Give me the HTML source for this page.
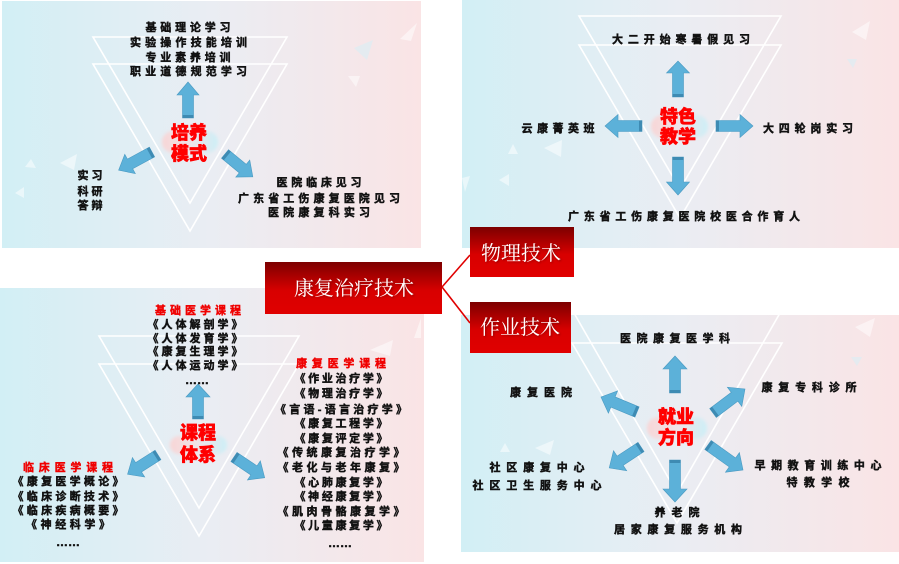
<!DOCTYPE html>
<html><head><meta charset="utf-8">
<style>
html,body{margin:0;padding:0;background:#fff;}
svg{display:block;}
.t{font-family:"Liberation Sans","Noto Sans CJK SC",sans-serif;font-weight:700;font-size:11px;fill:#111;stroke:#111;stroke-width:0.45;}
.r{font-family:"Liberation Sans","Noto Sans CJK SC",sans-serif;font-weight:700;font-size:11px;fill:#f00000;stroke:#f00000;stroke-width:0.4;}
.c{font-family:"Liberation Sans","Noto Sans CJK SC",sans-serif;font-weight:900;font-size:18px;fill:#ff0000;stroke:#ff0000;stroke-width:0.6;}
.w{font-family:"Liberation Serif","Noto Serif CJK SC",serif;font-size:20px;fill:#fff;}
.tri{fill:none;stroke:#fff;stroke-width:1.6;}
.ar{fill:#5cb1d9;stroke:#4a9ac2;stroke-width:0.6;}
.ad{fill:#3e8bb3;}
.deco{fill:#ffffff;opacity:0.5;}
.deco2{fill:#d8eef5;opacity:0.6;}
</style></head>
<body>
<svg width="899" height="564" viewBox="0 0 899 564" xmlns="http://www.w3.org/2000/svg">
<defs>
<linearGradient id="bg" x1="0" y1="0" x2="1" y2="0">
<stop offset="0" stop-color="#d2eff5"/>
<stop offset="0.5" stop-color="#eaedf3"/>
<stop offset="1" stop-color="#fae4e5"/>
</linearGradient>
<linearGradient id="rb" x1="0" y1="0" x2="0" y2="1">
<stop offset="0" stop-color="#7c0000"/>
<stop offset="0.55" stop-color="#d80000"/>
<stop offset="1" stop-color="#e00000"/>
</linearGradient>
<linearGradient id="pill" x1="0" y1="0" x2="1" y2="0">
<stop offset="0" stop-color="#f8d6d6"/>
<stop offset="0.5" stop-color="#efe3e8"/>
<stop offset="1" stop-color="#cdeff7"/>
</linearGradient>
<filter id="bl" x="-30%" y="-60%" width="160%" height="220%"><feGaussianBlur stdDeviation="1.5"/></filter>
<filter id="sh" x="-10%" y="-10%" width="130%" height="130%"><feDropShadow dx="1" dy="1" stdDeviation="1" flood-color="#000" flood-opacity="0.35"/></filter>
<clipPath id="cTL"><rect x="2" y="1" width="419" height="247"/></clipPath>
<clipPath id="cTR"><rect x="462" y="0" width="437" height="248"/></clipPath>
<clipPath id="cBL"><rect x="0" y="288" width="424" height="274"/></clipPath>
<clipPath id="cBR"><rect x="461" y="315" width="438" height="237"/></clipPath>
</defs>

<!-- Panels -->
<rect x="2" y="1" width="419" height="247" fill="url(#bg)"/>
<rect x="462" y="0" width="437" height="248" fill="url(#bg)"/>
<rect x="0" y="288" width="424" height="274" fill="url(#bg)"/>
<rect x="461" y="315" width="438" height="237" fill="url(#bg)"/>

<!-- decorative triangles -->
<polygon class="deco" points="400,39 417,23 411,41"/>
<polygon class="deco2" points="354,48 373,40 367,60"/>
<polygon class="deco" points="348,76 360,76 356,87"/>
<polygon class="deco" points="60,163 77,154 74,170"/>
<polygon class="deco" points="25,167 31,159 36,168"/>
<polygon class="deco" points="15,193 24,187 24,198"/>
<polygon class="deco" points="852,32 870,21 866,40"/>
<polygon class="deco2" points="847,59 857,59 853,68"/>
<polygon class="deco" points="544,148 562,140 561,157"/>
<polygon class="deco" points="508,154 513,144 518,154"/>
<polygon class="deco" points="462,178 470,176 465,192"/>
<polygon class="deco" points="499,180 509,174 509,186"/>
<polygon class="deco" points="370,350 393,340 390,356"/>
<polygon class="deco" points="414,338 421,318 421,338"/>
<polygon class="deco" points="855,327 875,318 870,337"/>
<polygon class="deco2" points="851,357 862,357 857,366"/>
<polygon class="deco" points="500,452 505,443 510,452"/>
<polygon class="deco" points="535,448 554,440 550,455"/>

<!-- Triangles -->
<g clip-path="url(#cTL)">
<polygon class="tri" points="93,37 287,37 190,203"/>
<polygon class="tri" points="93,64 287,64 190,231"/>
</g>
<g clip-path="url(#cTR)">
<polygon class="tri" points="579,16 781,16 680,189"/>
<polygon class="tri" points="579,45 781,45 680,218"/>
</g>
<g clip-path="url(#cBL)">
<polygon class="tri" points="99,336 299,336 199,508"/>
<polygon class="tri" points="99,364 299,364 199,536"/>
</g>
<g clip-path="url(#cBR)">
<polygon class="tri" points="574,313 780,313 677,493"/>
<polygon class="tri" points="572,343 782,343 677,523"/>
</g>

<!-- center pills -->
<rect x="162" y="131" width="56" height="22" rx="11" fill="url(#pill)" filter="url(#bl)"/>
<rect x="651" y="115" width="57" height="23" rx="11.5" fill="url(#pill)" filter="url(#bl)"/>
<rect x="170" y="436" width="57" height="18" rx="9" fill="url(#pill)" filter="url(#bl)"/>
<rect x="647" y="417" width="60" height="22" rx="11" fill="url(#pill)" filter="url(#bl)"/>

<!-- Arrows TL -->
<g transform="translate(188,118) rotate(-90)"><polygon class="ar" points="0,-5.5 23,-5.5 23,-11 36,0 23,11 23,5.5 0,5.5"/><rect class="ad" x="0" y="-5.5" width="3" height="11"/></g>
<g transform="translate(152,152) rotate(151.4)"><polygon class="ar" points="0,-5.5 25,-5.5 25,-11 38,0 25,11 25,5.5 0,5.5"/><rect class="ad" x="0" y="-5.5" width="3" height="11"/></g>
<g transform="translate(225,154) rotate(39.4)"><polygon class="ar" points="0,-5.5 23,-5.5 23,-11 36,0 23,11 23,5.5 0,5.5"/><rect class="ad" x="0" y="-5.5" width="3" height="11"/></g>
<!-- Arrows TR -->
<g transform="translate(678,97) rotate(-90)"><polygon class="ar" points="0,-5.5 24,-5.5 24,-11.5 36,0 24,11.5 24,5.5 0,5.5"/><rect class="ad" x="0" y="-5.5" width="3" height="11"/></g>
<g transform="translate(642,126) rotate(180)"><polygon class="ar" points="0,-5.5 24,-5.5 24,-11.5 37,0 24,11.5 24,5.5 0,5.5"/><rect class="ad" x="0" y="-5.5" width="3" height="11"/></g>
<g transform="translate(716,126)"><polygon class="ar" points="0,-5.5 24,-5.5 24,-11.5 37,0 24,11.5 24,5.5 0,5.5"/><rect class="ad" x="0" y="-5.5" width="3" height="11"/></g>
<g transform="translate(678,157) rotate(90)"><polygon class="ar" points="0,-5.5 25,-5.5 25,-11.5 38,0 25,11.5 25,5.5 0,5.5"/><rect class="ad" x="0" y="-5.5" width="3" height="11"/></g>
<!-- Arrows BL -->
<g transform="translate(198,419) rotate(-90)"><polygon class="ar" points="0,-5.5 22,-5.5 22,-12 35,0 22,12 22,5.5 0,5.5"/><rect class="ad" x="0" y="-5.5" width="3" height="11"/></g>
<g transform="translate(158,455) rotate(147.7)"><polygon class="ar" points="0,-5.5 23,-5.5 23,-11.5 36,0 23,11.5 23,5.5 0,5.5"/><rect class="ad" x="0" y="-5.5" width="3" height="11"/></g>
<g transform="translate(234,457) rotate(34)"><polygon class="ar" points="0,-5.5 24,-5.5 24,-11.5 37,0 24,11.5 24,5.5 0,5.5"/><rect class="ad" x="0" y="-5.5" width="3" height="11"/></g>
<!-- Arrows BR -->
<g transform="translate(675,393) rotate(-90)"><polygon class="ar" points="0,-5.5 24,-5.5 24,-12 37,0 24,12 24,5.5 0,5.5"/><rect class="ad" x="0" y="-5.5" width="3" height="11"/></g>
<g transform="translate(637,412) rotate(202.6)"><polygon class="ar" points="0,-5.5 26,-5.5 26,-12 39,0 26,12 26,5.5 0,5.5"/><rect class="ad" x="0" y="-5.5" width="3" height="11"/></g>
<g transform="translate(713,413) rotate(-36.9)"><polygon class="ar" points="0,-5.5 27,-5.5 27,-12 40,0 27,12 27,5.5 0,5.5"/><rect class="ad" x="0" y="-5.5" width="3" height="11"/></g>
<g transform="translate(641,447) rotate(146.7)"><polygon class="ar" points="0,-5.5 25,-5.5 25,-12 38,0 25,12 25,5.5 0,5.5"/><rect class="ad" x="0" y="-5.5" width="3" height="11"/></g>
<g transform="translate(708,445) rotate(35.5)"><polygon class="ar" points="0,-5.5 30,-5.5 30,-12 43,0 30,12 30,5.5 0,5.5"/><rect class="ad" x="0" y="-5.5" width="3" height="11"/></g>
<g transform="translate(675,460) rotate(90)"><polygon class="ar" points="0,-5.5 29,-5.5 29,-12 42,0 29,12 29,5.5 0,5.5"/><rect class="ad" x="0" y="-5.5" width="3" height="11"/></g>

<!-- TL text -->
<text class="t" x="188" y="31" text-anchor="middle" textLength="85" lengthAdjust="spacing">基础理论学习</text>
<text class="t" x="188.5" y="46" text-anchor="middle" textLength="117" lengthAdjust="spacing">实验操作技能培训</text>
<text class="t" x="188" y="61" text-anchor="middle" textLength="85" lengthAdjust="spacing">专业素养培训</text>
<text class="t" x="188.5" y="75" text-anchor="middle" textLength="117" lengthAdjust="spacing">职业道德规范学习</text>
<text class="t" x="90" y="179" text-anchor="middle" textLength="25" lengthAdjust="spacing">实习</text>
<text class="t" x="90" y="195" text-anchor="middle" textLength="25" lengthAdjust="spacing">科研</text>
<text class="t" x="90" y="209" text-anchor="middle" textLength="25" lengthAdjust="spacing">答辩</text>
<text class="t" x="319" y="186" text-anchor="middle" textLength="85" lengthAdjust="spacing">医院临床见习</text>
<text class="t" x="319" y="202" text-anchor="middle" textLength="162" lengthAdjust="spacing">广东省工伤康复医院见习</text>
<text class="t" x="319" y="216" text-anchor="middle" textLength="102" lengthAdjust="spacing">医院康复科实习</text>
<text class="c" x="189" y="139" text-anchor="middle">培养</text>
<text class="c" x="189" y="160" text-anchor="middle">模式</text>

<!-- TR text -->
<text class="t" x="681" y="43" text-anchor="middle" textLength="138" lengthAdjust="spacing">大二开始寒暑假见习</text>
<text class="t" x="558" y="132" text-anchor="middle" textLength="73" lengthAdjust="spacing">云康菁英班</text>
<text class="t" x="808" y="132" text-anchor="middle" textLength="90" lengthAdjust="spacing">大四轮岗实习</text>
<text class="t" x="684" y="220" text-anchor="middle" textLength="232" lengthAdjust="spacing">广东省工伤康复医院校医合作育人</text>
<text class="c" x="678" y="123" text-anchor="middle">特色</text>
<text class="c" x="678" y="143" text-anchor="middle">教学</text>

<!-- BL text -->
<text class="r" x="198" y="314" text-anchor="middle" textLength="86" lengthAdjust="spacing">基础医学课程</text>
<text class="t" x="195" y="328" text-anchor="middle" textLength="95" lengthAdjust="spacing">《人体解剖学》</text>
<text class="t" x="195" y="342" text-anchor="middle" textLength="95" lengthAdjust="spacing">《人体发育学》</text>
<text class="t" x="195" y="355" text-anchor="middle" textLength="95" lengthAdjust="spacing">《康复生理学》</text>
<text class="t" x="195" y="369" text-anchor="middle" textLength="95" lengthAdjust="spacing">《人体运动学》</text>
<text class="t" x="197" y="384" text-anchor="middle" textLength="24" lengthAdjust="spacingAndGlyphs">……</text>
<text class="c" x="198" y="439" text-anchor="middle">课程</text>
<text class="c" x="198" y="461" text-anchor="middle">体系</text>
<text class="r" x="68" y="471" text-anchor="middle" textLength="90" lengthAdjust="spacing">临床医学课程</text>
<text class="t" x="68" y="485" text-anchor="middle" textLength="111" lengthAdjust="spacing">《康复医学概论》</text>
<text class="t" x="68" y="500" text-anchor="middle" textLength="111" lengthAdjust="spacing">《临床诊断技术》</text>
<text class="t" x="68" y="514" text-anchor="middle" textLength="111" lengthAdjust="spacing">《临床疾病概要》</text>
<text class="t" x="68" y="528" text-anchor="middle" textLength="84" lengthAdjust="spacing">《神经科学》</text>
<text class="t" x="68" y="546" text-anchor="middle" textLength="24" lengthAdjust="spacingAndGlyphs">……</text>
<text class="r" x="341" y="367" text-anchor="middle" textLength="90" lengthAdjust="spacing">康复医学课程</text>
<text class="t" x="341" y="382" text-anchor="middle" textLength="93" lengthAdjust="spacing">《作业治疗学》</text>
<text class="t" x="341" y="397" text-anchor="middle" textLength="93" lengthAdjust="spacing">《物理治疗学》</text>
<text class="t" x="341" y="413" text-anchor="middle" textLength="132" lengthAdjust="spacing">《言语-语言治疗学》</text>
<text class="t" x="341" y="427" text-anchor="middle" textLength="93" lengthAdjust="spacing">《康复工程学》</text>
<text class="t" x="341" y="442" text-anchor="middle" textLength="93" lengthAdjust="spacing">《康复评定学》</text>
<text class="t" x="341" y="456" text-anchor="middle" textLength="127" lengthAdjust="spacing">《传统康复治疗学》</text>
<text class="t" x="341" y="471" text-anchor="middle" textLength="127" lengthAdjust="spacing">《老化与老年康复》</text>
<text class="t" x="341" y="486" text-anchor="middle" textLength="93" lengthAdjust="spacing">《心肺康复学》</text>
<text class="t" x="341" y="500" text-anchor="middle" textLength="93" lengthAdjust="spacing">《神经康复学》</text>
<text class="t" x="341" y="515" text-anchor="middle" textLength="127" lengthAdjust="spacing">《肌肉骨骼康复学》</text>
<text class="t" x="341" y="529" text-anchor="middle" textLength="93" lengthAdjust="spacing">《儿童康复学》</text>
<text class="t" x="340" y="547" text-anchor="middle" textLength="24" lengthAdjust="spacingAndGlyphs">……</text>

<!-- BR text -->
<text class="t" x="675" y="342" text-anchor="middle" textLength="110" lengthAdjust="spacing">医院康复医学科</text>
<text class="t" x="541" y="396" text-anchor="middle" textLength="62" lengthAdjust="spacing">康复医院</text>
<text class="t" x="809" y="391" text-anchor="middle" textLength="95" lengthAdjust="spacing">康复专科诊所</text>
<text class="t" x="537" y="471" text-anchor="middle" textLength="95" lengthAdjust="spacing">社区康复中心</text>
<text class="t" x="537" y="489" text-anchor="middle" textLength="129" lengthAdjust="spacing">社区卫生服务中心</text>
<text class="t" x="818" y="469" text-anchor="middle" textLength="127" lengthAdjust="spacing">早期教育训练中心</text>
<text class="t" x="818" y="486" text-anchor="middle" textLength="63" lengthAdjust="spacing">特教学校</text>
<text class="t" x="677" y="516" text-anchor="middle" textLength="45" lengthAdjust="spacing">养老院</text>
<text class="t" x="678" y="533" text-anchor="middle" textLength="128" lengthAdjust="spacing">居家康复服务机构</text>
<text class="c" x="676" y="423" text-anchor="middle">就业</text>
<text class="c" x="676" y="444" text-anchor="middle">方向</text>

<!-- connectors -->
<line x1="442" y1="287" x2="470" y2="255" stroke="#e00000" stroke-width="1.6"/>
<line x1="442" y1="287" x2="470" y2="323" stroke="#e00000" stroke-width="1.6"/>

<!-- red boxes -->
<rect x="265" y="262" width="177" height="52" fill="url(#rb)"/>
<rect x="470" y="227" width="104" height="50" fill="url(#rb)"/>
<rect x="470" y="302" width="101" height="51" fill="url(#rb)"/>
<text class="w" x="354" y="295" text-anchor="middle" filter="url(#sh)">康复治疗技术</text>
<text class="w" x="521" y="260" text-anchor="middle" filter="url(#sh)">物理技术</text>
<text class="w" x="520" y="334" text-anchor="middle" filter="url(#sh)">作业技术</text>
</svg>
</body></html>
